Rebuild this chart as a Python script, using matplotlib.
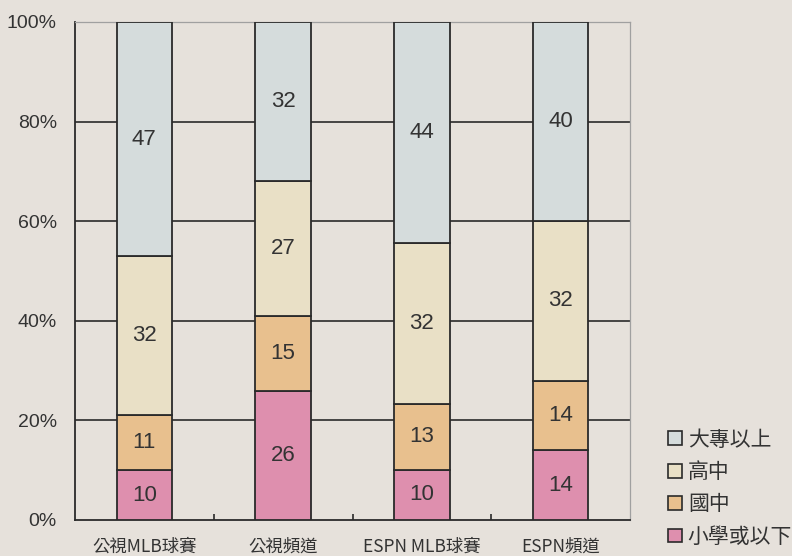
import numpy as np
import matplotlib
matplotlib.use("Agg")
import matplotlib.pyplot as plt
from matplotlib.patches import Patch

plt.rcParams['font.family'] = ['Noto Sans CJK TC', 'DejaVu Sans']

# ---------------------------------------------
# DATA
# ---------------------------------------------
categories = ["公視MLB球賽", "公視頻道", "ESPN MLB球賽", "ESPN頻道"]
series_names = ["小學或以下", "國中", "高中", "大專以上"]
elementary = [10, 26, 10, 14]
junior_high = [11, 15, 13, 14]
senior_high = [32, 27, 32, 32]
college = [47, 32, 44, 40]
colors = ["#de8fae", "#e8c08e", "#e9e0c6", "#d5dcdc"]
bg = "#e6e1db"
num_font = "Liberation Sans"

series = np.array([elementary, junior_high, senior_high, college], dtype=float)
totals = series.sum(axis=0)
pct = series / totals * 100

fig = plt.figure(figsize=(7.92, 5.56), dpi=100, facecolor=bg)
ax = fig.add_axes([75 / 792, 36 / 556, 555 / 792, 498 / 556])
ax.set_facecolor(bg)

x = np.arange(len(categories))
bottom = np.zeros(len(categories))
for vals, raw, col in zip(pct, series, colors):
    ax.bar(x, vals, width=0.4, bottom=bottom, color=col,
           edgecolor="#2a2a2a", linewidth=1.3, zorder=3)
    for xi, b, v, r in zip(x, bottom, vals, raw):
        ax.text(xi, b + v / 2, f"{int(r)}", ha="center", va="center",
                fontsize=16, family=num_font, color="#333333", zorder=4)
    bottom += vals

ax.set_xlim(-0.5, len(categories) - 0.5)
ax.set_ylim(0, 100)
ax.set_yticks([0, 20, 40, 60, 80, 100])
ax.set_yticklabels([f"{v}%" for v in [0, 20, 40, 60, 80, 100]],
                   fontsize=14, family=num_font, color="#333333")
ax.set_xticks(x)
ax.set_xticklabels(categories, fontsize=12.5, color="#333333")
ax.tick_params(axis="x", length=0, pad=13)
ax.tick_params(axis="y", length=0, pad=13)
ax.set_xticks([0.5, 1.5, 2.5], minor=True)
ax.tick_params(axis="x", which="minor", direction="in", length=4,
               width=1.2, color="#2a2a2a")

for yv in [20, 40, 60, 80]:
    ax.axhline(yv, color="#2a2a2a", linewidth=1.2, zorder=1)

for side in ["left", "bottom"]:
    ax.spines[side].set_color("#2a2a2a")
    ax.spines[side].set_linewidth(1.3)
for side in ["top", "right"]:
    ax.spines[side].set_color("#a0a0a0")
    ax.spines[side].set_linewidth(0.9)

handles = [Patch(facecolor=c, edgecolor="#2a2a2a", linewidth=1.2, label=n)
           for c, n in zip(colors, series_names)][::-1]
fig.legend(handles=handles, loc="center left", bbox_to_anchor=(668 / 792, 0.122),
           frameon=False, fontsize=15, handlelength=0.65, handleheight=0.65,
           handletextpad=0.3, labelspacing=0.5, borderpad=0, borderaxespad=0,
           labelcolor="#333333")

fig.savefig("out.png", dpi=100, facecolor=bg)
